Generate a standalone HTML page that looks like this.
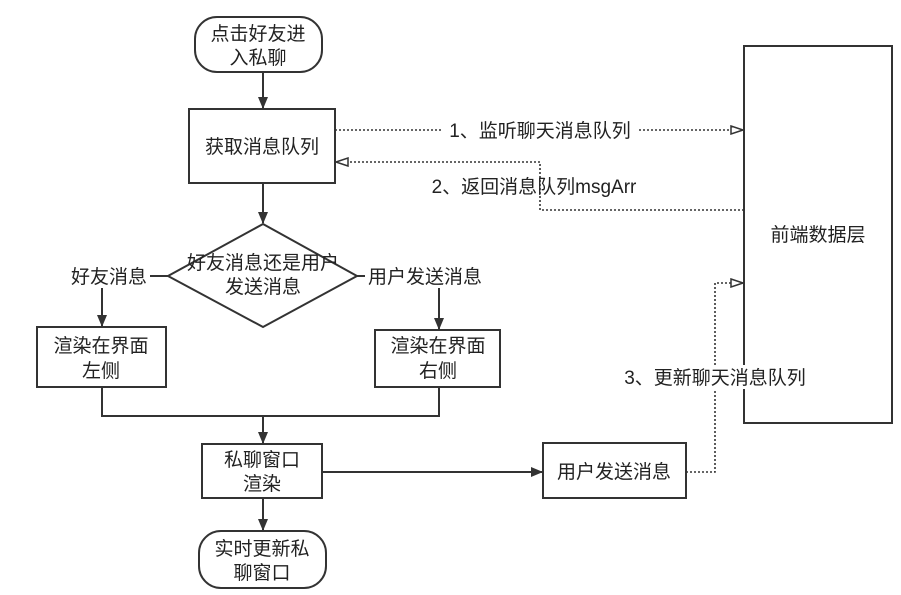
<!DOCTYPE html>
<html><head><meta charset="utf-8"><style>
html,body{margin:0;padding:0;background:#fff;}
svg{display:block;}
text{font-family:"Liberation Sans","Noto Sans CJK SC",sans-serif;font-size:19px;fill:#222;text-anchor:middle;}
</style></head><body>
<svg width="901" height="595" viewBox="0 0 901 595" xmlns="http://www.w3.org/2000/svg">
<defs>
<marker id="a" markerWidth="12" markerHeight="12" refX="11" refY="6" orient="auto" markerUnits="userSpaceOnUse"><path d="M0,1 L12,6 L0,11 Z" fill="#333"/></marker>
<marker id="o" markerWidth="14" markerHeight="10" refX="13" refY="5" orient="auto" markerUnits="userSpaceOnUse"><path d="M1,1 L13,5 L1,9 Z" fill="#fff" stroke="#333" stroke-width="1.5"/></marker>
</defs>
<g stroke="#333" stroke-width="2" fill="#fff">
<rect x="195" y="17" width="127" height="55" rx="22"/>
<rect x="189" y="109" width="146" height="74"/>
<polygon points="263,224 357,276 263,327 168,276"/>
<rect x="37" y="327" width="129" height="60"/>
<rect x="375" y="330" width="125" height="57"/>
<rect x="202" y="444" width="120" height="54"/>
<rect x="199" y="531" width="127" height="57" rx="22"/>
<rect x="543" y="443" width="143" height="55"/>
<rect x="744" y="46" width="148" height="377"/>
</g>
<g stroke="#333" stroke-width="2" fill="none">
<line x1="263" y1="72" x2="263" y2="108" marker-end="url(#a)"/>
<line x1="263" y1="183" x2="263" y2="223" marker-end="url(#a)"/>
<line x1="150" y1="276" x2="168" y2="276"/>
<line x1="357" y1="276" x2="365" y2="276"/>
<line x1="102" y1="288" x2="102" y2="326" marker-end="url(#a)"/>
<line x1="439" y1="288" x2="439" y2="329" marker-end="url(#a)"/>
<polyline points="102,387 102,416 439,416 439,387"/>
<line x1="263" y1="416" x2="263" y2="443" marker-end="url(#a)"/>
<line x1="263" y1="498" x2="263" y2="530" marker-end="url(#a)"/>
<line x1="322" y1="472" x2="542" y2="472" marker-end="url(#a)"/>
</g>
<g stroke="#333" stroke-width="1.6" fill="none" stroke-dasharray="2,2">
<line x1="335" y1="130" x2="743" y2="130" marker-end="url(#o)"/>
<polyline points="744,210 540,210 540,162 336,162" marker-end="url(#o)"/>
<polyline points="686,472 715,472 715,283 743,283" marker-end="url(#o)"/>
</g>
<rect x="443" y="118" width="194" height="24" fill="#fff"/>
<rect x="617" y="365" width="196" height="24" fill="#fff"/>
<text x="258" y="40">点击好友进</text>
<text x="258" y="64">入私聊</text>
<text x="262" y="153">获取消息队列</text>
<text x="263" y="269">好友消息还是用户</text>
<text x="263" y="293">发送消息</text>
<text x="109" y="283">好友消息</text>
<text x="425" y="283">用户发送消息</text>
<text x="101" y="352">渲染在界面</text>
<text x="101" y="377">左侧</text>
<text x="438" y="352">渲染在界面</text>
<text x="438" y="377">右侧</text>
<text x="262" y="466">私聊窗口</text>
<text x="262" y="490">渲染</text>
<text x="262" y="555">实时更新私</text>
<text x="262" y="579">聊窗口</text>
<text x="614" y="478">用户发送消息</text>
<text x="818" y="241">前端数据层</text>
<text x="540" y="137">1、监听聊天消息队列</text>
<text x="534" y="193">2、返回消息队列msgArr</text>
<text x="715" y="384">3、更新聊天消息队列</text>
</svg>
</body></html>
